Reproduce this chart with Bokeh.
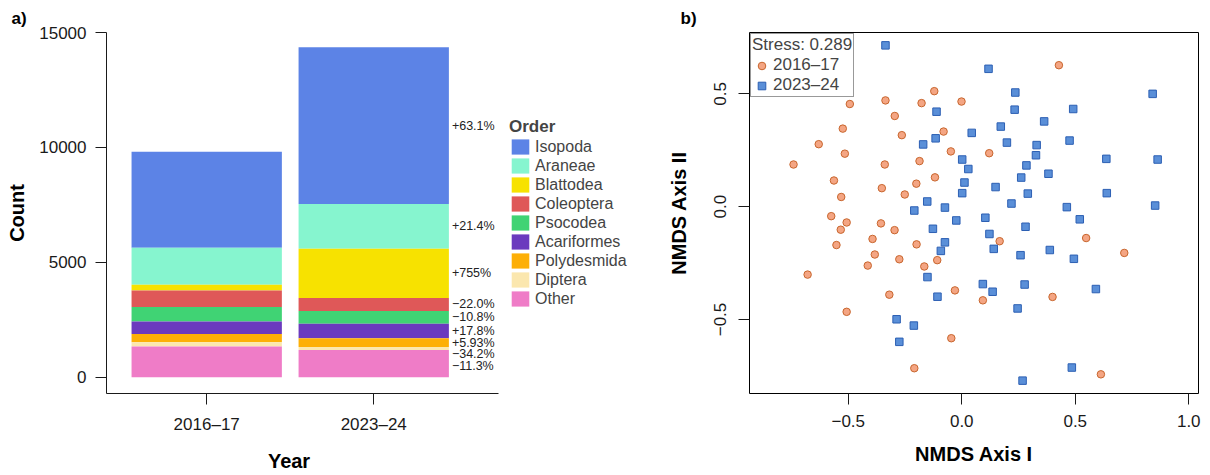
from bokeh.plotting import figure
from bokeh.models import (ColumnDataSource, Legend, LegendItem, FixedTicker, Range1d, Title)
from bokeh.layouts import row
from bokeh.embed import file_html
from bokeh.resources import INLINE
from bokeh.core.properties import value

# ---------------- data: panel a ----------------
years = ["2016–17", "2023–24"]
orders = ["Isopoda", "Araneae", "Blattodea", "Coleoptera", "Psocodea",
          "Acariformes", "Polydesmida", "Diptera", "Other"]
counts_2016 = [4180, 1610, 250, 720, 625, 540, 360, 185, 1340]
counts_2023 = [6818, 1955, 2138, 562, 558, 636, 381, 122, 1189]
pct_labels = ["+63.1%", "+21.4%", "+755%", "−22.0%", "−10.8%",
              "+17.8%", "+5.93%", "−34.2%", "−11.3%"]
order_colors = ["#5C83E6", "#86F5CF", "#F7E200", "#DF5858", "#40D374",
                "#6B3ABE", "#FDAF06", "#FBE7AE", "#EF7CC7"]

# ---------------- data: panel b (NMDS scores) ----------------
nmds1_2016 = [-0.493, -0.336, -0.524, -0.630, -0.515, -0.741, -0.339, -0.563, -0.352, -0.531,
              -0.121, -0.177, -0.001, -0.295, -0.264, -0.080, -0.048, 0.121, -0.186, -0.118,
              -0.200, -0.251, 0.428,
              -0.575, -0.507, -0.533, -0.356, -0.393, -0.552, -0.383, -0.414, -0.679, -0.319,
              -0.507,
              -0.296, -0.199, 0.167, -0.275, -0.108, -0.165, -0.030, 0.093, -0.046, -0.209,
              0.548, 0.716, 0.400, 0.613]
nmds2_2016 = [0.455, 0.471, 0.346, 0.277, 0.235, 0.187, 0.187, 0.116, 0.082, 0.043,
              0.512, 0.459, 0.466, 0.402, 0.317, 0.333, 0.245, 0.237, 0.202, 0.130,
              0.102, 0.054, 0.627,
              -0.042, -0.070, -0.102, -0.074, -0.143, -0.170, -0.212, -0.261, -0.301, -0.390,
              -0.466,
              -0.104, -0.167, -0.153, -0.233, -0.237, -0.265, -0.371, -0.415, -0.583, -0.716,
              -0.139, -0.205, -0.400, -0.743]
nmds1_2023 = [-0.336,
              0.118, 0.236, -0.111, 0.233, 0.172, 0.044, -0.115, -0.170, 0.199, 0.002,
              0.029, 0.285, 0.262, 0.012, 0.149, 0.002, 0.291, -0.152, 0.219, -0.074, -0.209,
              0.841, 0.491, 0.363, 0.475, 0.330, 0.327, 0.637, 0.863, 0.382, 0.639, 0.463, 0.852,
              -0.024, 0.104, 0.281, -0.127, 0.122, -0.074, 0.141, -0.092, 0.259, -0.151,
              0.093, 0.136, 0.277, -0.107, 0.246, -0.287, -0.211, -0.275, 0.268,
              0.520, 0.388, 0.494, 0.591, 0.485]
nmds2_2023 = [0.715,
              0.611, 0.506, 0.421, 0.430, 0.355, 0.327, 0.303, 0.276, 0.284, 0.209,
              0.167, 0.183, 0.129, 0.107, 0.087, 0.060, 0.058, 0.023, 0.014, -0.004, -0.017,
              0.500, 0.433, 0.378, 0.293, 0.273, 0.228, 0.212, 0.209, 0.146, 0.060, -0.002, 0.005,
              -0.061, -0.049, -0.089, -0.098, -0.121, -0.158, -0.187, -0.196, -0.215, -0.312,
              -0.343, -0.377, -0.345, -0.399, -0.451, -0.499, -0.527, -0.599, -0.771,
              -0.056, -0.192, -0.231, -0.365, -0.713]
stress_text = "Stress: 0.289"

FONT = "Liberation Sans"
AX = "#1a1a1a"

# ================= panel a =================
bar_width = 0.9
xpos = [i + 1 for i in range(len(years))]

p1 = figure(width=660, height=475, x_range=Range1d(0.4, 3.717), y_range=Range1d(-709, 15000),
            output_backend="svg", toolbar_location=None,
            min_border_left=106, min_border_right=0, min_border_top=32, min_border_bottom=82)
p1.outline_line_color = None
p1.xgrid.visible = False
p1.ygrid.visible = False

# stacked from the bottom (last order) upward
n = len(orders)
bottoms16, tops16, bottoms23, tops23 = [0] * n, [0] * n, [0] * n, [0] * n
c16 = c23 = 0
for i in reversed(range(n)):
    bottoms16[i] = c16; c16 += counts_2016[i]; tops16[i] = c16
    bottoms23[i] = c23; c23 += counts_2023[i]; tops23[i] = c23

renderers = []
for i in range(n):
    src = ColumnDataSource(dict(x=xpos, bottom=[bottoms16[i], bottoms23[i]],
                                top=[tops16[i], tops23[i]]))
    r = p1.vbar(x="x", bottom="bottom", top="top", width=bar_width, source=src,
                fill_color=order_colors[i], line_color=None)
    renderers.append(r)

# percent-change labels beside the 2023-24 bar, nudged apart when crowded
mids = [(bottoms23[i] + tops23[i]) / 2 for i in range(n)]
label_y = []
min_gap = 500
for i in range(n):
    y = mids[i]
    if label_y and label_y[-1] - y < min_gap:
        y = label_y[-1] - min_gap
    label_y.append(y)
label_x = [xpos[-1] + bar_width / 2] * n
p1.text(x=label_x, y=label_y, text=pct_labels, x_offset=3, text_align="left",
        text_baseline="middle", text_font=value(FONT), text_font_size="12.5px",
        text_color="#222222")

p1.xaxis.ticker = FixedTicker(ticks=xpos)
p1.xaxis.major_label_overrides = {xpos[k]: years[k] for k in range(len(years))}
p1.xaxis.bounds = (0.4, 2.75)
p1.yaxis.ticker = FixedTicker(ticks=[0, 5000, 10000, 15000])
for ax in (p1.xaxis[0], p1.yaxis[0]):
    ax.axis_line_color = AX
    ax.major_tick_line_color = AX
    ax.minor_tick_line_color = None
    ax.major_tick_in = 0
    ax.major_tick_out = 11
    ax.major_label_text_font = FONT
    ax.major_label_text_font_size = "17px"
    ax.major_label_text_color = AX
    ax.axis_label_text_font = FONT
    ax.axis_label_text_font_style = "bold"
    ax.axis_label_text_font_size = "20px"
    ax.axis_label_text_color = "black"
p1.yaxis.major_label_standoff = 9
p1.xaxis.major_label_standoff = 10
p1.yaxis.axis_label = "Count"
p1.yaxis.axis_label_standoff = 8
# the axis title sits under the bars, left of the frame centre (frame also holds the legend)
p1.xaxis.axis_label = "Year" + "\u00a0" * 34
p1.xaxis.axis_label_standoff = 13

p1.add_layout(Title(text="a)", align="left", offset=-95, standoff=10,
                    text_font=FONT, text_font_style="bold", text_font_size="17px",
                    text_color="black"), "above")

leg1 = Legend(items=[LegendItem(label=orders[i], renderers=[renderers[i]]) for i in range(n)],
              title="Order", location=(403, 85))
leg1.title_text_font = FONT
leg1.title_text_font_style = "bold"
leg1.title_text_font_size = "17px"
leg1.title_standoff = 0
leg1.label_text_font = FONT
leg1.label_text_font_size = "16px"
leg1.glyph_width = 22
leg1.glyph_height = 19
leg1.label_height = 19
leg1.spacing = 0
leg1.padding = 1
leg1.margin = 0
leg1.label_standoff = 4
leg1.border_line_color = None
leg1.background_fill_alpha = 0
p1.add_layout(leg1)

# ================= panel b =================
p2 = figure(width=550, height=475, x_range=Range1d(-0.935, 1.043), y_range=Range1d(-0.828, 0.772),
            output_backend="svg", toolbar_location=None,
            min_border_left=89, min_border_right=12, min_border_top=30, min_border_bottom=82)
p2.outline_line_color = "black"
p2.outline_line_width = 1
p2.xgrid.visible = False
p2.ygrid.visible = False

r16 = p2.scatter(x=nmds1_2016, y=nmds2_2016, marker="circle", size=7.5,
                 fill_color="#F4A583", line_color="#C8662E", line_width=1)
r23 = p2.scatter(x=nmds1_2023, y=nmds2_2023, marker="square", size=7.5,
                 fill_color="#5A8FD8", line_color="#2C5FB3", line_width=1)

p2.xaxis.ticker = FixedTicker(ticks=[-0.5, 0, 0.5, 1])
p2.xaxis.major_label_overrides = {-0.5: "−0.5", 0: "0.0", 0.5: "0.5", 1: "1.0"}
p2.yaxis.ticker = FixedTicker(ticks=[-0.5, 0, 0.5])
p2.yaxis.major_label_overrides = {-0.5: "−0.5", 0: "0.0", 0.5: "0.5"}
p2.yaxis.major_label_orientation = "vertical"
for ax in (p2.xaxis[0], p2.yaxis[0]):
    ax.axis_line_color = None
    ax.major_tick_line_color = AX
    ax.minor_tick_line_color = None
    ax.major_tick_in = 0
    ax.major_tick_out = 11
    ax.major_label_text_font = FONT
    ax.major_label_text_font_size = "17px"
    ax.major_label_text_color = AX
    ax.axis_label_text_font = FONT
    ax.axis_label_text_font_style = "bold"
    ax.axis_label_text_font_size = "20px"
    ax.axis_label_text_color = "black"
p2.xaxis.major_label_standoff = 10
p2.xaxis.axis_label = "NMDS Axis I"
p2.xaxis.axis_label_standoff = 13
p2.yaxis.major_label_standoff = 12
p2.yaxis.axis_label = "NMDS Axis II"
p2.yaxis.axis_label_standoff = 22

p2.add_layout(Title(text="b)", align="left", offset=-69, standoff=10,
                    text_font=FONT, text_font_style="bold", text_font_size="17px",
                    text_color="black"), "above")

leg2 = Legend(items=[LegendItem(label=years[0], renderers=[r16]),
                     LegendItem(label=years[1], renderers=[r23])],
              title=stress_text, location="top_left")
leg2.title_text_font = FONT
leg2.title_text_font_style = "normal"
leg2.title_text_font_size = "17px"
leg2.title_standoff = 0
leg2.label_text_font = FONT
leg2.label_text_font_size = "17px"
leg2.glyph_width = 19
leg2.glyph_height = 19
leg2.label_height = 19
leg2.spacing = 0
leg2.padding = 1
leg2.margin = 1
leg2.label_standoff = 2
leg2.border_line_color = "#333333"
leg2.border_line_width = 1
leg2.background_fill_color = "white"
leg2.background_fill_alpha = 1
p2.add_layout(leg2)

layout = row(p1, p2)
open("out.html", "w").write(file_html(layout, INLINE))
